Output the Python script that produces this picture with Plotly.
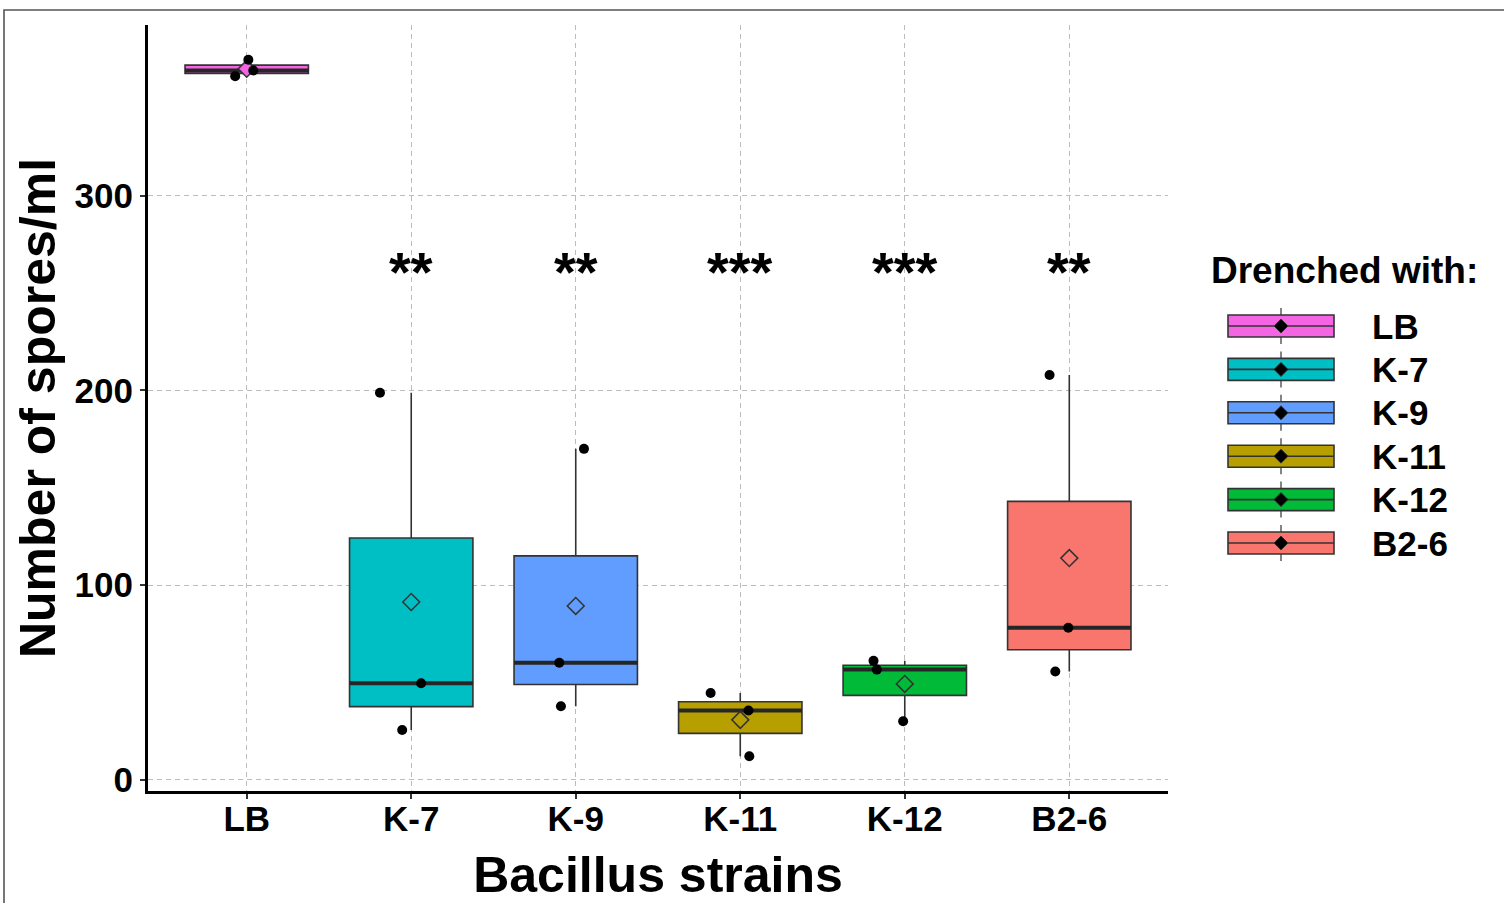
import numpy as np
import plotly.graph_objects as go

# ---------------- data ----------------
strains = ["LB", "K-7", "K-9", "K-11", "K-12", "B2-6"]
colors = ["#F564E3", "#00BFC4", "#619CFF", "#B79F00", "#00BA38", "#F8766D"]

spores_LB = [370.0, 364.5, 361.6]
spores_K7 = [198.8, 49.5, 25.5]
spores_K9 = [170.0, 60.0, 37.7]
spores_K11 = [44.5, 35.5, 12.0]
spores_K12 = [61.0, 56.5, 30.0]
spores_B26 = [208.0, 78.0, 55.5]

# horizontal jitter of the raw points (category units)
jitter_LB = [0.01, 0.04, -0.07]
jitter_K7 = [-0.19, 0.06, -0.055]
jitter_K9 = [0.05, -0.10, -0.09]
jitter_K11 = [-0.18, 0.05, 0.055]
jitter_K12 = [-0.19, -0.17, -0.01]
jitter_B26 = [-0.12, -0.006, -0.085]

sig_labels = ["", "**", "**", "***", "***", "**"]
sig_height = 264
y_ticks = [0, 100, 200, 300]

groups = [spores_LB, spores_K7, spores_K9, spores_K11, spores_K12, spores_B26]
jitters = [jitter_LB, jitter_K7, jitter_K9, jitter_K11, jitter_K12, jitter_B26]

# ---------------- figure ----------------
W, H = 1504, 903
ML, MR, MT, MB = 148, 336, 25, 112
PW, PH = W - ML - MR, H - MT - MB
FONT = "Liberation Sans, Arial, sans-serif"
BOX_W = 0.75

fig = go.Figure()

# boxes
for i, (name, col, vals) in enumerate(zip(strains, colors, groups)):
    fig.add_trace(go.Box(
        x=[i] * len(vals), y=vals, name=name, width=BOX_W,
        fillcolor=col, line=dict(color="#333333", width=1.6),
        whiskerwidth=0, boxpoints=False, quartilemethod="inclusive",
        showlegend=False, hoverinfo="skip"))

# thick median bars
mx, my = [], []
for i, vals in enumerate(groups):
    med = float(np.median(vals))
    mx += [i - BOX_W / 2, i + BOX_W / 2, None]
    my += [med, med, None]
fig.add_trace(go.Scatter(x=mx, y=my, mode="lines",
                         line=dict(color="#262626", width=4),
                         showlegend=False, hoverinfo="skip"))

# mean diamonds
fig.add_trace(go.Scatter(
    x=list(range(len(strains))), y=[float(np.mean(v)) for v in groups],
    mode="markers",
    marker=dict(symbol="diamond", size=13, color=colors,
                line=dict(color="#333333", width=1.5)),
    showlegend=False, hoverinfo="skip"))

# jittered raw points
px_, py_ = [], []
for i, (vals, jit) in enumerate(zip(groups, jitters)):
    px_ += [i + d for d in jit]
    py_ += vals
fig.add_trace(go.Scatter(x=px_, y=py_, mode="markers",
                         marker=dict(size=10, color="black"),
                         showlegend=False, hoverinfo="skip"))


# ---------------- helpers for paper coords ----------------
def pxx(p):
    return (p - ML) / PW


def pxy(p):
    return (H - MB - p) / PH


annotations = []
# significance stars
for i, lab in enumerate(sig_labels):
    if lab:
        annotations.append(dict(x=i, y=sig_height, xref="x", yref="y",
                                text=lab, showarrow=False, yshift=-5,
                                xanchor="center", yanchor="middle",
                                font=dict(family=FONT, size=56, color="black",
                                          weight="bold")))

shapes = []
# outer frame
shapes.append(dict(type="rect", xref="paper", yref="paper",
                   x0=pxx(4), x1=pxx(W + 10), y0=pxy(H + 10), y1=pxy(10),
                   line=dict(color="#555555", width=1.6), layer="above"))

# custom legend
annotations.append(dict(xref="paper", yref="paper", x=pxx(1209), y=pxy(270),
                        xanchor="left", yanchor="middle", showarrow=False,
                        text="Drenched with:",
                        font=dict(family=FONT, size=37, color="black", weight="bold")))
for k, (name, col) in enumerate(zip(strains, colors)):
    cy = 326 + k * 43.4
    cx = 1281
    shapes.append(dict(type="line", xref="paper", yref="paper",
                       x0=pxx(cx), x1=pxx(cx), y0=pxy(cy - 18), y1=pxy(cy + 18),
                       line=dict(color="#333333", width=1.2)))
    shapes.append(dict(type="rect", xref="paper", yref="paper",
                       x0=pxx(1228), x1=pxx(1334), y0=pxy(cy + 11), y1=pxy(cy - 11),
                       fillcolor=col, line=dict(color="#333333", width=1.6)))
    shapes.append(dict(type="line", xref="paper", yref="paper",
                       x0=pxx(1228), x1=pxx(1334), y0=pxy(cy), y1=pxy(cy),
                       line=dict(color="#333333", width=1.6)))
    d = 7
    path = (f"M {pxx(cx - d)} {pxy(cy)} L {pxx(cx)} {pxy(cy - d)} "
            f"L {pxx(cx + d)} {pxy(cy)} L {pxx(cx)} {pxy(cy + d)} Z")
    shapes.append(dict(type="path", xref="paper", yref="paper", path=path,
                       fillcolor="black", line=dict(color="#333333", width=1)))
    annotations.append(dict(xref="paper", yref="paper", x=pxx(1370), y=pxy(cy),
                            xanchor="left", yanchor="middle", showarrow=False,
                            text=name,
                            font=dict(family=FONT, size=35, color="black", weight="bold")))

grid_common = dict(showgrid=True, gridcolor="#bcbcbc", gridwidth=1.4,
                   griddash="5px,4px", zeroline=False,
                   showline=True, linecolor="black", linewidth=3,
                   ticks="outside", ticklen=5, tickwidth=1.5, tickcolor="#333333",
                   automargin=False)

fig.update_layout(
    width=W, height=H,
    margin=dict(l=ML, r=MR, t=MT, b=MB, pad=0),
    paper_bgcolor="white", plot_bgcolor="white",
    showlegend=False,
    boxmode="overlay",
    xaxis=dict(range=[-0.6, len(strains) - 0.4],
               tickmode="array", tickvals=list(range(len(strains))), ticktext=strains,
               tickfont=dict(family=FONT, size=35, color="black", weight="bold"),
               ticklabelstandoff=-10,
               title=dict(text="Bacillus strains", standoff=21,
                          font=dict(family=FONT, size=50, color="black", weight="bold")),
               **grid_common),
    yaxis=dict(range=[-5.9, 387.9],
               tickmode="array", tickvals=y_ticks,
               tickfont=dict(family=FONT, size=35, color="black", weight="bold"),
               title=dict(text="Number of spores/ml", standoff=4,
                          font=dict(family=FONT, size=50, color="black", weight="bold")),
               **grid_common),
    shapes=shapes,
    annotations=annotations,
)

fig.write_html("out.html",
               config={"displayModeBar": False},
               post_script="document.body.style.margin='0';"
                           "document.body.style.overflow='hidden';")
